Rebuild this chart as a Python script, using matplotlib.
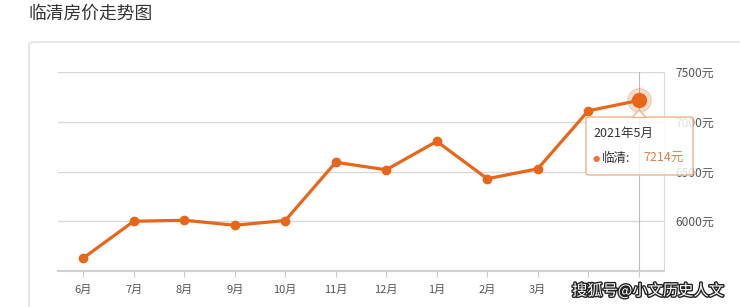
import matplotlib
matplotlib.use("Agg")
import matplotlib.pyplot as plt
from matplotlib.patches import FancyBboxPatch, Polygon
import matplotlib.patheffects as pe

plt.rcParams['font.family'] = ['Noto Sans CJK SC', 'DejaVu Sans']

months = ['6月', '7月', '8月', '9月', '10月', '11月', '12月', '1月', '2月', '3月', '4月', '5月']
prices = [5630, 6000, 6010, 5960, 6007, 6593, 6517, 6803, 6427, 6527, 7110, 7214]
ytick_vals = [5500, 6000, 6500, 7000, 7500]
ytick_labels = ['', '6000元', '6500元', '7000元', '7500元']
title = '临清房价走势图'
tip_date = '2021年5月'
tip_series = '临清:'
tip_value = '7214元'
watermark = '搜狐号@小文历史人文'

W, H = 740, 307
fig = plt.figure(figsize=(W / 100, H / 100), dpi=100)
fig.patch.set_facecolor('white')

# card frame
card = FancyBboxPatch((29 / W, -0.1), 1.0, (H - 42) / H + 0.1,
                      boxstyle="round,pad=0,rounding_size=0.01",
                      transform=fig.transFigure, facecolor='white',
                      edgecolor='#dcdcdc', linewidth=1.0, zorder=-10)
fig.patches.append(card)

fig.text(28 / W, 1 - 14 / H, title, fontsize=12.8, color='#333333',
         va='center', ha='left')

ax = fig.add_axes([58 / W, 36 / H, (664 - 58) / W, (271 - 72) / H])
ax.set_facecolor('none')
x = list(range(len(months)))
orange = '#E8661A'
ax.plot(x, prices, color=orange, linewidth=2.3, marker='o', markersize=6,
        solid_joinstyle='round', zorder=3)
ax.set_xlim(-0.5, len(months) - 0.5)
ax.set_ylim(5500, 7500)
ax.set_yticks(ytick_vals)
ax.set_yticklabels(ytick_labels)
ax.yaxis.tick_right()
ax.tick_params(axis='y', length=0, pad=8, labelsize=8.6, labelcolor='#555555')
ax.set_xticks(x)
ax.set_xticklabels(months)
ax.tick_params(axis='x', length=4, color='#cccccc', pad=6, labelsize=8,
               labelcolor='#555555')
# last two month labels are hidden beneath the watermark in the reference
for lbl in ax.get_xticklabels()[-2:]:
    lbl.set_visible(False)
ax.grid(axis='y', color='#d9d9d9', linewidth=1)
for s in ['top', 'left']:
    ax.spines[s].set_visible(False)
ax.spines['right'].set_color('#d9d9d9')
ax.spines['bottom'].set_color('#d0d0d0')
ax.spines['bottom'].set_linewidth(1.5)

# hover guide line
last = len(months) - 1
ax.axvline(last, color='#bbbbbb', linewidth=0.8, zorder=2)
ax.plot([last], [prices[-1]], 'o', color=orange, alpha=0.22, markersize=17, zorder=4)
ax.plot([last], [prices[-1]], 'o', color=orange, markersize=10, zorder=5)

# tooltip (semi-transparent, axis labels show through faintly)
x0, x1, y0, y1 = 586, 693, 117, 175
tip = FancyBboxPatch((x0 / W, 1 - y1 / H), (x1 - x0) / W, (y1 - y0) / H,
                     boxstyle="round,pad=0,rounding_size=0.005",
                     transform=fig.transFigure, facecolor=(1, 1, 1, 0.82),
                     edgecolor='#f0b48a', linewidth=1.0, zorder=10)
fig.patches.append(tip)
tri = Polygon([(632 / W, 1 - 117.5 / H), (639 / W, 1 - 110 / H), (646 / W, 1 - 117.5 / H)],
              closed=True, transform=fig.transFigure, facecolor='white',
              edgecolor='#f0b48a', linewidth=1.0, zorder=11)
fig.patches.append(tri)
fig.text(593 / W, 1 - 133 / H, tip_date, fontsize=9, color='#333333',
         va='center', ha='left', zorder=12)
fig.text(596 / W, 1 - 158.5 / H, '●', fontsize=6, color='#e8763a',
         va='center', ha='center', zorder=12, family='DejaVu Sans')
fig.text(602 / W, 1 - 158 / H, tip_series, fontsize=9, color='#333333',
         va='center', ha='left', zorder=12)
fig.text(643 / W, 1 - 158 / H, tip_value, fontsize=9, color='#d9824e',
         va='center', ha='left', zorder=12)

# watermark
fig.text(572 / W, 1 - 291 / H, watermark, fontsize=11, color='white',
         va='center', ha='left', zorder=13,
         path_effects=[pe.withStroke(linewidth=2, foreground='#222222')])

fig.savefig('out.png', dpi=100)
